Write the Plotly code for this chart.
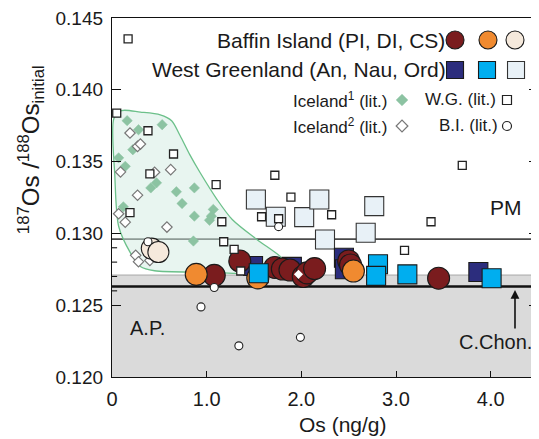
import plotly.graph_objects as go

# ---------------- data ----------------
pi_x = [1.08, 1.35, 1.72, 1.80, 1.88, 2.02, 2.06, 2.14, 2.50, 2.52, 3.45]
pi_y = [0.12708, 0.12808, 0.12763, 0.12752, 0.12745, 0.12700, 0.12725, 0.12755, 0.12808, 0.12780, 0.12688]

di_x = [0.89, 1.54, 2.55]
di_y = [0.12715, 0.12690, 0.12738]

cs_x = [0.42, 0.49]
cs_y = [0.12894, 0.12870]

an_x = [1.49, 1.90, 2.45, 2.46, 3.87]
an_y = [0.12773, 0.12767, 0.12830, 0.12750, 0.12731]

nau_x = [1.55, 2.81, 2.79, 3.12, 4.01]
nau_y = [0.12722, 0.12785, 0.12704, 0.12715, 0.12688]

ord_x = [1.52, 1.73, 2.03, 2.19, 2.25, 2.77, 2.68]
ord_y = [0.13236, 0.13116, 0.13113, 0.13236, 0.12958, 0.13190, 0.13005]

ice1_x = [0.16, 0.28, 0.53, 0.22, 0.07, 0.14, 0.47, 0.41, 0.68, 0.87, 0.74, 0.12, 0.87, 1.07, 1.05, 1.03, 0.86]
ice1_y = [0.13785, 0.13722, 0.13757, 0.13583, 0.13526, 0.13467, 0.13352, 0.13317, 0.13290, 0.13317,
          0.13208, 0.13185, 0.13120, 0.13167, 0.13120, 0.13092, 0.12947]

ice2_x = [0.19, 0.27, 0.30, 0.09, 0.45, 0.62, 0.27, 0.07, 0.14, 0.58, 0.25, 0.28, 0.40]
ice2_y = [0.13699, 0.13606, 0.13622, 0.13428, 0.13426, 0.13444, 0.13266, 0.13137, 0.13078, 0.13044,
          0.12847, 0.12803, 0.12812]

wg_x = [0.17, 0.05, 0.38, 0.65, 0.40, 1.10, 0.19, 1.16, 1.18, 1.29, 1.36, 1.72, 1.89, 1.58, 1.76, 2.32, 3.37, 3.09, 3.70]
wg_y = [0.14354, 0.13838, 0.13715, 0.13553, 0.13415, 0.13340, 0.13144, 0.13081, 0.12942, 0.12889, 0.12738,
        0.13405, 0.13252, 0.13116, 0.13102, 0.13130, 0.13081, 0.12882, 0.13474]

bi_x = [0.38, 1.08, 1.76, 0.94, 1.34, 1.99]
bi_y = [0.12942, 0.12623, 0.13047, 0.12488, 0.12217, 0.12276]

spark_x = [1.97]
spark_y = [0.12715]

field_x = [0.02, 0.10, 0.30, 0.51, 0.63, 0.72, 0.82, 0.93, 1.11, 1.27, 1.53, 1.79, 1.90, 1.60, 1.00,
           0.45, 0.30, 0.19, 0.07, 0.03, 0.02]
field_y = [0.1380, 0.13855, 0.13845, 0.13826, 0.13785, 0.1368, 0.1355, 0.13424, 0.13236, 0.13097,
           0.12958, 0.12833, 0.1275, 0.1272, 0.1273, 0.1274, 0.1277, 0.1287, 0.1305, 0.1340, 0.1380]

PM = 0.1296
CHON = 0.1263
BAND_TOP = 0.1271
X_RANGE = [0, 4.5]
Y_RANGE = [0.120, 0.145]
y_ticks = [0.120, 0.125, 0.130, 0.135, 0.140, 0.145]
x_ticks = [0, 1, 2, 3, 4]
x_ticktext = ["0", "1.0", "2.0", "3.0", "4.0"]
minor_y = [0.126, 0.127, 0.128, 0.129]

C_PI = "#7a1c1e"
C_DI = "#f08a30"
C_CS = "#f5e9dc"
C_AN = "#2c2d7d"
C_NAU = "#00aeef"
C_ORD = "#e8f1f7"
C_ICE1 = "#8cc3a2"
FONT = "Liberation Sans, Arial, sans-serif"

fig = go.Figure()

# Iceland field
fig.add_trace(go.Scatter(x=field_x, y=field_y, mode="lines", fill="toself",
                         fillcolor="rgba(210,235,225,0.5)",
                         line=dict(color="#6cc08a", width=1.3, shape="spline", smoothing=0.8),
                         hoverinfo="skip", showlegend=False))

edge = dict(color="#1a1a1a", width=1.1)
fig.add_trace(go.Scatter(x=ice1_x, y=ice1_y, mode="markers",
                         marker=dict(symbol="diamond", size=8, color=C_ICE1, line=dict(color=C_ICE1, width=0.5)),
                         showlegend=False))
fig.add_trace(go.Scatter(x=ice2_x, y=ice2_y, mode="markers",
                         marker=dict(symbol="diamond", size=8, color="white", line=dict(color="#777777", width=1.2)),
                         showlegend=False))
fig.add_trace(go.Scatter(x=ord_x, y=ord_y, mode="markers",
                         marker=dict(symbol="square", size=19, color=C_ORD, line=dict(color="#333333", width=1.1)),
                         showlegend=False))
fig.add_trace(go.Scatter(x=cs_x, y=cs_y, mode="markers",
                         marker=dict(symbol="circle", size=21, color=C_CS, line=edge),
                         showlegend=False))
fig.add_trace(go.Scatter(x=an_x, y=an_y, mode="markers",
                         marker=dict(symbol="square", size=19, color=C_AN, line=edge),
                         showlegend=False))
fig.add_trace(go.Scatter(x=pi_x, y=pi_y, mode="markers",
                         marker=dict(symbol="circle", size=22, color=C_PI, line=edge),
                         showlegend=False))
fig.add_trace(go.Scatter(x=di_x, y=di_y, mode="markers",
                         marker=dict(symbol="circle", size=22, color=C_DI, line=edge),
                         showlegend=False))
fig.add_trace(go.Scatter(x=nau_x, y=nau_y, mode="markers",
                         marker=dict(symbol="square", size=19, color=C_NAU, line=edge),
                         showlegend=False))
fig.add_trace(go.Scatter(x=wg_x, y=wg_y, mode="markers",
                         marker=dict(symbol="square", size=8, color="white", line=dict(color="#222222", width=1.3)),
                         showlegend=False))
fig.add_trace(go.Scatter(x=bi_x, y=bi_y, mode="markers",
                         marker=dict(symbol="circle", size=8, color="white", line=dict(color="#222222", width=1.1)),
                         showlegend=False))
fig.add_trace(go.Scatter(x=spark_x, y=spark_y, mode="markers",
                         marker=dict(symbol="diamond", size=7, color="white", line=dict(width=0)),
                         showlegend=False))

# ---------------- legend (overlay axes in paper units) ----------------
def legend_marker(x, y, symbol, size, color, line):
    fig.add_trace(go.Scatter(x=[x], y=[y], mode="markers", xaxis="x2", yaxis="y2",
                             marker=dict(symbol=symbol, size=size, color=color, line=line),
                             showlegend=False, hoverinfo="skip"))

r1, r2, r3, r4 = 0.9387, 0.8552, 0.7716, 0.6992
legend_marker(0.8052, r1, "circle", 18, C_PI, edge)
legend_marker(0.8826, r1, "circle", 18, C_DI, edge)
legend_marker(0.9460, r1, "circle", 18, C_CS, edge)
legend_marker(0.8052, r2, "square", 17, C_AN, edge)
legend_marker(0.8803, r2, "square", 17, C_NAU, edge)
legend_marker(0.9484, r2, "square", 17, C_ORD, dict(color="#333333", width=1.1))
legend_marker(0.6808, r3, "diamond", 9, C_ICE1, dict(color=C_ICE1, width=0.5))
legend_marker(0.9272, r3, "square", 9, "white", dict(color="#222222", width=1.2))
legend_marker(0.6808, r4, "diamond", 9, "white", dict(color="#777777", width=1.2))
legend_marker(0.9272, r4, "circle", 9, "white", dict(color="#222222", width=1.2))

annotations = []
def txt(x, y, s, size, xanchor="right", yanchor="middle", **kw):
    annotations.append(dict(x=x, y=y, xref="paper", yref="paper", text=s, showarrow=False,
                            xanchor=xanchor, yanchor=yanchor,
                            font=dict(family=FONT, size=size, color="#1a1a1a"), **kw))

txt(0.7864, r1, "Baffin Island (PI, DI, CS)", 21)
txt(0.7887, r2, "West Greenland (An, Nau, Ord)", 21)
txt(0.6526, r3, "Iceland<sup>1</sup> (lit.)", 17)
txt(0.9061, r3, "W.G. (lit.)", 17)
txt(0.6526, r4, "Iceland<sup>2</sup> (lit.)", 17)
txt(0.9108, r4, "B.I. (lit.)", 17)
txt(0.9249, 0.4735, "PM", 21, xanchor="center")
txt(0.0845, 0.1365, "A.P.", 20, xanchor="center")
txt(0.9014, 0.0975, "C.Chon.", 20, xanchor="center")
txt(0.5423, -0.1337, "Os (ng/g)", 21, xanchor="center")
txt(-0.19, 0.632, "<sup>187</sup>Os /<sup>188</sup>Os<sub>initial</sub>", 24, xanchor="center", textangle=-90)

# arrow to C.Chon line
annotations.append(dict(x=0.9460, y=0.2423, xref="paper", yref="paper", ax=0, ay=40,
                        axref="pixel", ayref="pixel", text="", showarrow=True,
                        arrowhead=2, arrowsize=1.1, arrowwidth=1.6, arrowcolor="#111111"))

# ---------------- shapes ----------------
shapes = [
    dict(type="rect", xref="x", yref="y", x0=X_RANGE[0], x1=X_RANGE[1], y0=Y_RANGE[0], y1=BAND_TOP,
         fillcolor="#dadada", line=dict(width=0), layer="below"),
    dict(type="line", xref="x", yref="y", x0=X_RANGE[0], x1=X_RANGE[1], y0=BAND_TOP, y1=BAND_TOP,
         line=dict(color="#a8a8a8", width=1), layer="below"),
    dict(type="line", xref="x", yref="y", x0=X_RANGE[0], x1=X_RANGE[1], y0=CHON, y1=CHON,
         line=dict(color="#111111", width=2.4), layer="below"),
    dict(type="line", xref="x", yref="y", x0=X_RANGE[0], x1=X_RANGE[1], y0=PM, y1=PM,
         line=dict(color="#4a4a4a", width=1.6), layer="below"),
]
for v in minor_y:
    shapes.append(dict(type="line", xref="paper", yref="y", x0=0, x1=0.012, y0=v, y1=v,
                       line=dict(color="#111111", width=1.1)))
    shapes.append(dict(type="line", xref="paper", yref="y", x0=1, x1=0.988, y0=v, y1=v,
                       line=dict(color="#111111", width=1.1)))

# page body has an 8px margin, so the figure is sized/positioned to compensate
fig.update_layout(
    width=531, height=431,
    margin=dict(l=104, r=1, t=10, b=62),
    paper_bgcolor="white", plot_bgcolor="white",
    showlegend=False,
    font=dict(family=FONT, size=19, color="#1a1a1a"),
    xaxis=dict(range=X_RANGE, tickvals=x_ticks, ticktext=x_ticktext, ticks="inside", ticklen=6,
               tickwidth=1.1, tickcolor="#111111", showgrid=False, zeroline=False,
               showline=True, linecolor="#111111", linewidth=1.3, mirror=True,
               tickfont=dict(size=20), ticklabelstandoff=4, ticklabeloverflow="allow"),
    yaxis=dict(range=Y_RANGE, tickvals=y_ticks, tickformat=".3f", ticks="inside", ticklen=9,
               tickwidth=1.1, tickcolor="#111111", showgrid=False, zeroline=False,
               showline=True, linecolor="#111111", linewidth=1.3, mirror="ticks",
               tickfont=dict(size=19), ticklabelstandoff=4, ticklabeloverflow="allow"),
    xaxis2=dict(range=[0, 1], overlaying="x", visible=False, fixedrange=True),
    yaxis2=dict(range=[0, 1], overlaying="y", visible=False, fixedrange=True),
    annotations=annotations,
    shapes=shapes,
)

fig.write_html("out.html")
